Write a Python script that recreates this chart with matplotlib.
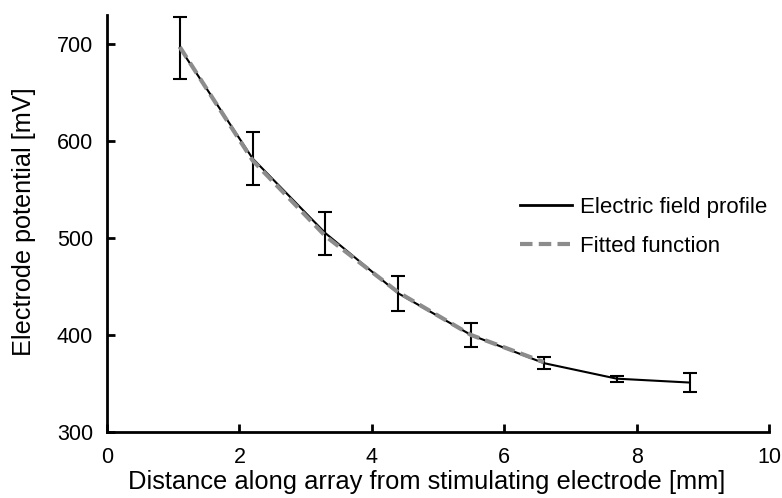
import matplotlib
matplotlib.use("Agg")
import matplotlib.pyplot as plt
from matplotlib.lines import Line2D

plt.rcParams['font.family'] = ['Liberation Sans', 'DejaVu Sans']

# Measured electrode potential along the array
distance_mm = [1.1, 2.2, 3.3, 4.4, 5.5, 6.6, 7.7, 8.8]
potential_mv = [696, 582, 505, 443, 400, 371, 355, 351]
potential_err = [32, 27, 22, 18, 12, 6, 3, 10]

# Fitted function evaluated over the fitted range
fit_distance_mm = [1.1, 2.2, 3.3, 4.4, 5.5, 6.6]
fit_potential_mv = [697, 580, 502, 444, 400, 372]

xticks = [0, 2, 4, 6, 8, 10]
yticks = [300, 400, 500, 600, 700]

fig = plt.figure(figsize=(7.82, 4.98), dpi=100)
ax = fig.add_axes([107/782, 1 - 432/498, (769-107)/782, (432-15)/498])

ax.errorbar(distance_mm, potential_mv, yerr=potential_err, color='black',
            lw=1.5, capsize=5, capthick=1.5, elinewidth=1.5,
            label='Electric field profile', zorder=2)
ax.plot(fit_distance_mm, fit_potential_mv, color='#8c8c8c', lw=3,
        dashes=(3, 1.5), label='Fitted function', zorder=3)

ax.set_xlim(0, 10)
ax.set_ylim(300, 730)
ax.set_xticks(xticks)
ax.set_yticks(yticks)
ax.tick_params(direction='in', length=6, width=2, labelsize=15.5)
ax.tick_params(axis='x', pad=10.5)
ax.tick_params(axis='y', pad=10)
for side in ('top', 'right'):
    ax.spines[side].set_visible(False)
for side in ('left', 'bottom'):
    ax.spines[side].set_linewidth(2)

ax.set_xlabel('Distance along array from stimulating electrode [mm]', fontsize=18.4)
ax.set_ylabel('Electrode potential [mV]', fontsize=18.2)
ax.xaxis.set_label_coords(0.483, -0.091)
ax.yaxis.set_label_coords(-0.1065, 0.505)

leg_handles = [Line2D([], [], color='black', lw=2),
               Line2D([], [], color='#8c8c8c', lw=3, dashes=(3, 1.5))]
ax.legend(leg_handles, ['Electric field profile', 'Fitted function'],
          frameon=False, fontsize=16, loc='center left',
          bbox_to_anchor=(0.594, 0.4925), handlelength=2.34, handletextpad=0.36,
          labelspacing=0.8)

fig.savefig('out.png', dpi=100)
